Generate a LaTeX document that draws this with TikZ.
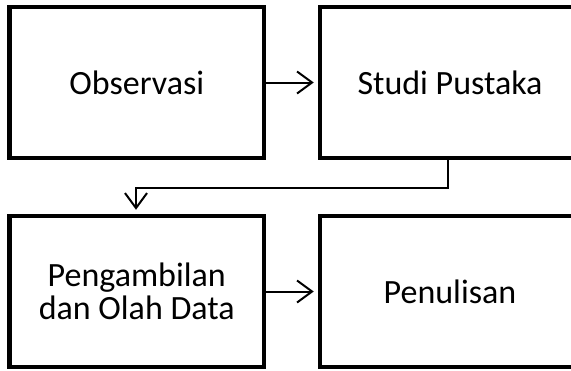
\documentclass[tikz,border=0pt]{standalone}
\usepackage{fontspec}
\setmainfont{Carlito}
\usetikzlibrary{arrows.meta}
\begin{document}
\begin{tikzpicture}[x=1pt,y=-1pt,
  box/.style={draw,line width=4.5pt,rectangle,inner sep=0pt,align=center,
    font=\fontsize{34}{33.5}\selectfont},
  conn/.style={line width=2pt,-{Straight Barb[length=15pt,width=22pt,line width=2pt]},shorten >=4pt}]
\useasboundingbox (0,0) rectangle (571,370);
\node[box,minimum width=254.5pt,minimum height=151pt] (obs) at (136.75,82.5) {Observasi};
\node[box,minimum width=260pt,minimum height=151pt] (studi) at (450,82.5) {Studi Pustaka};
\node[box,minimum width=254.5pt,minimum height=151pt] (ambil) at (136.75,291.5) {Pengambilan\\dan Olah Data};
\node[box,minimum width=260pt,minimum height=151pt] (tulis) at (450,291.5) {Penulisan};
\coordinate (c1) at (448,187.7);
\coordinate (c2) at (136,187.7);
\draw[conn] (obs.east) -- (studi.west);
\draw[conn] (ambil.east) -- (tulis.west);
\draw[conn] (studi.south -| c1) -- (c1) -- (c2) -- (c2 |- ambil.north);
\end{tikzpicture}
\end{document}
